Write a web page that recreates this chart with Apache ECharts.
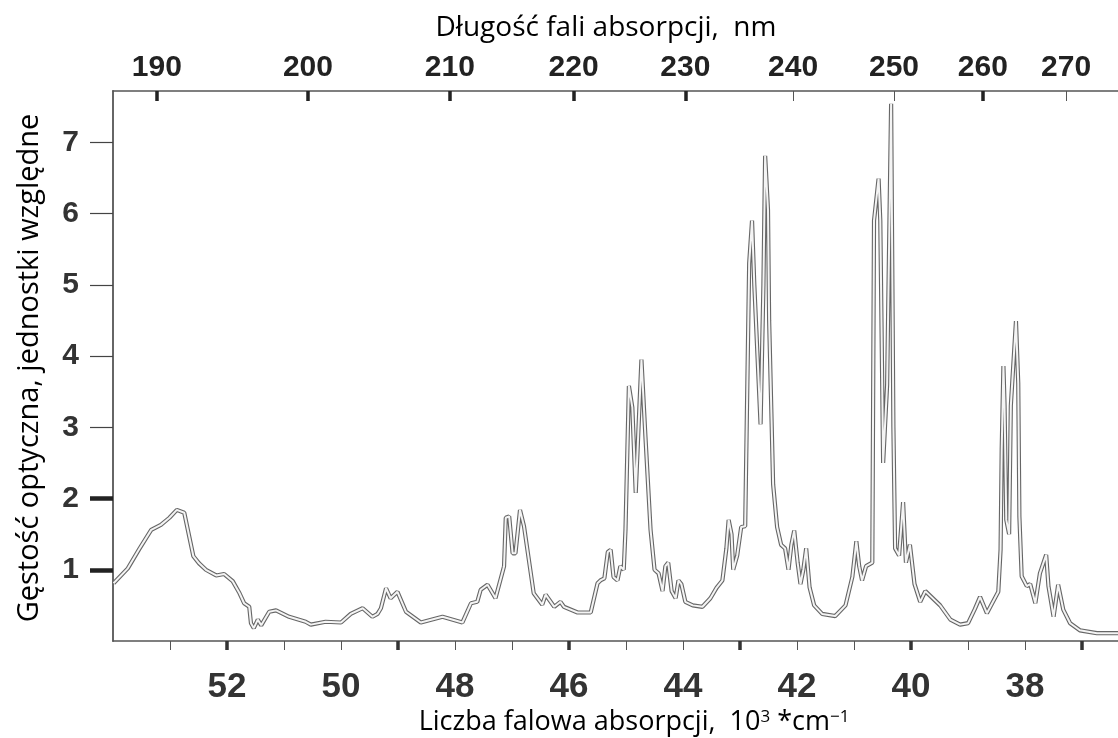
<!DOCTYPE html>
<html>
<head>
<meta charset="utf-8">
<script src="https://cdn.jsdelivr.net/npm/echarts@6/dist/echarts.min.js"></script>
<style>
  html, body { margin: 0; padding: 0; background: #fff; }
  #chart { width: 1118px; height: 738px; }
</style>
</head>
<body>
<div id="chart"></div>
<script>
// wave number (10^3 cm^-1) and optical density
const waveNumbers = [
  53.99, 53.74, 53.54, 53.33, 53.16, 53.01, 52.88, 52.75, 52.59, 52.49,
  52.37, 52.19, 52.05, 51.90, 51.78, 51.70, 51.61, 51.58, 51.53, 51.46,
  51.40, 51.26, 51.14, 50.91, 50.62, 50.53, 50.27, 50.00, 49.83, 49.62,
  49.45, 49.36, 49.30, 49.21, 49.13, 49.01, 48.86, 48.60, 48.22, 47.87,
  47.72, 47.61, 47.55, 47.43, 47.29, 47.14, 47.11, 47.05, 46.99, 46.94,
  46.86, 46.79, 46.62, 46.47, 46.41, 46.26, 46.15, 46.09, 45.85, 45.62,
  45.50, 45.45, 45.38, 45.32, 45.27, 45.22, 45.15, 45.10, 45.04, 45.01,
  44.95, 44.89, 44.83, 44.73, 44.66, 44.57, 44.50, 44.43, 44.36, 44.31,
  44.26, 44.20, 44.13, 44.08, 44.03, 43.96, 43.83, 43.66, 43.52, 43.41,
  43.31, 43.24, 43.20, 43.15, 43.12, 43.05, 42.98, 42.91, 42.84, 42.79,
  42.75, 42.64, 42.59, 42.56, 42.51, 42.49, 42.42, 42.35, 42.28, 42.21,
  42.15, 42.10, 42.05, 41.99, 41.94, 41.89, 41.84, 41.78, 41.70, 41.56,
  41.33, 41.15, 41.03, 40.96, 40.91, 40.86, 40.79, 40.68, 40.65, 40.57,
  40.54, 40.49, 40.42, 40.35, 40.31, 40.28, 40.21, 40.14, 40.09, 40.02,
  39.94, 39.84, 39.75, 39.49, 39.31, 39.14, 39.00, 38.88, 38.79, 38.67,
  38.47, 38.43, 38.41, 38.38, 38.36, 38.33, 38.28, 38.25, 38.16, 38.12,
  38.10, 38.06, 37.97, 37.91, 37.82, 37.74, 37.63, 37.59, 37.50, 37.42,
  37.33, 37.21, 37.04, 36.74, 36.37
];
const density = [
  0.81, 1.02, 1.29, 1.56, 1.63, 1.73, 1.84, 1.80, 1.19, 1.09,
  1.00, 0.92, 0.94, 0.84, 0.67, 0.53, 0.48, 0.25, 0.18, 0.30,
  0.22, 0.41, 0.43, 0.34, 0.27, 0.23, 0.27, 0.26, 0.38, 0.46,
  0.34, 0.38, 0.46, 0.74, 0.60, 0.69, 0.41, 0.26, 0.34, 0.26,
  0.53, 0.55, 0.72, 0.79, 0.60, 1.05, 1.73, 1.75, 1.23, 1.23,
  1.84, 1.61, 0.67, 0.51, 0.65, 0.48, 0.55, 0.48, 0.40, 0.40,
  0.81, 0.85, 0.88, 1.25, 1.28, 0.90, 0.85, 1.05, 1.00, 1.56,
  3.58, 3.28, 2.08, 3.95, 2.87, 1.56, 1.00, 0.95, 0.70, 1.05,
  1.10, 0.70, 0.60, 0.85, 0.80, 0.55, 0.50, 0.48, 0.60, 0.75,
  0.85, 1.30, 1.70, 1.50, 1.00, 1.20, 1.60, 1.61, 5.30, 5.90,
  5.00, 3.04, 5.00, 6.81, 6.05, 4.50, 2.20, 1.60, 1.35, 1.30,
  1.00, 1.35, 1.55, 1.10, 0.80, 1.00, 1.30, 0.75, 0.50, 0.38,
  0.35, 0.50, 0.90, 1.40, 1.05, 0.85, 1.05, 1.10, 5.90, 6.49,
  5.90, 2.50, 3.60, 7.54, 3.00, 1.30, 1.20, 1.95, 1.10, 1.35,
  0.80, 0.55, 0.70, 0.50, 0.30, 0.23, 0.25, 0.45, 0.62, 0.39,
  0.69, 1.28, 2.69, 3.86, 3.30, 1.70, 1.50, 3.30, 4.49, 3.62,
  1.75, 0.91, 0.77, 0.80, 0.53, 0.95, 1.21, 0.77, 0.34, 0.79,
  0.44, 0.25, 0.15, 0.11, 0.11
];

const xMin = 36.37;
const xMax = 54.0;
const bottomTicks = [37, 38, 39, 40, 41, 42, 43, 44, 45, 46, 47, 48, 49, 50, 51, 52, 53];
const bottomBoldTicks = [37, 40, 43, 46, 49, 52];
const bottomLabels = [38, 40, 42, 44, 46, 48, 50, 52];

// wavelength scale on top, placed where the picture has it
const topTickLabels = [190, 200, 210, 220, 230, 240, 250, 260, 270];
const topTickAt = [53.23, 50.58, 48.09, 45.92, 43.96, 42.07, 40.30, 38.74, 37.28];
const topBoldLabels = [190, 200, 210, 220, 230, 260];

const yMax = 7.72;
const yTicks = [1, 2, 3, 4, 5, 6, 7];
const yBoldTicks = [1, 2];

const spectrum = waveNumbers.map((w, i) => [w, density[i]]);
const topBoldAt = topTickAt.filter((v, i) => topBoldLabels.includes(topTickLabels[i]));

const tickFont = "'Liberation Sans', Arial, sans-serif";
const titleFont = "'Open Sans', 'Noto Sans', sans-serif";
const axisColor = '#555';

const baseX = {
  type: 'value',
  min: xMin,
  max: xMax,
  inverse: true,
  splitLine: { show: false },
  axisLine: { show: false, onZero: false },
  axisLabel: { show: false },
  axisTick: { show: false }
};

const chart = echarts.init(document.getElementById('chart'));
chart.setOption({
  animation: false,
  backgroundColor: '#fff',
  grid: { left: 113, right: 0, top: 91, bottom: 97, outerBoundsMode: 'none' },
  xAxis: [
    {
      ...baseX,
      position: 'bottom',
      axisLine: { show: true, onZero: false, lineStyle: { color: axisColor, width: 1.5 } },
      axisTick: { show: true, customValues: bottomTicks, length: 9, lineStyle: { color: axisColor, width: 1 } },
      axisLabel: {
        show: true, customValues: bottomLabels, margin: 29,
        fontFamily: tickFont, fontSize: 35, fontWeight: 'bold', color: '#333'
      }
    },
    {
      ...baseX,
      position: 'bottom',
      axisTick: { show: true, customValues: bottomBoldTicks, length: 9, lineStyle: { color: '#333', width: 3.5 } }
    },
    {
      ...baseX,
      position: 'top',
      axisLine: { show: true, onZero: false, lineStyle: { color: axisColor, width: 1.5 } },
      axisTick: { show: true, inside: true, customValues: topTickAt, length: 10, lineStyle: { color: axisColor, width: 1 } },
      axisLabel: {
        show: true, customValues: topTickAt, margin: 8,
        fontFamily: tickFont, fontSize: 30, fontWeight: 'bold', color: '#222',
        formatter: v => String(topTickLabels[topTickAt.indexOf(v)])
      }
    },
    {
      ...baseX,
      position: 'top',
      axisTick: { show: true, inside: true, customValues: topBoldAt, length: 10, lineStyle: { color: '#222', width: 3.5 } }
    }
  ],
  yAxis: [
    {
      type: 'value',
      position: 'left',
      min: 0,
      max: yMax,
      splitLine: { show: false },
      axisLine: { show: true, onZero: false, lineStyle: { color: '#666', width: 2 } },
      axisTick: { show: true, customValues: yTicks, length: 23, lineStyle: { color: '#444', width: 1.2 } },
      axisLabel: {
        show: true, customValues: yTicks, margin: 34,
        fontFamily: tickFont, fontSize: 30, fontWeight: 'bold', color: '#333'
      }
    },
    {
      type: 'value',
      position: 'left',
      min: 0,
      max: yMax,
      splitLine: { show: false },
      axisLine: { show: false, onZero: false },
      axisLabel: { show: false },
      axisTick: { show: true, customValues: yBoldTicks, length: 23, lineStyle: { color: '#222', width: 4.5 } }
    }
  ],
  series: [
    {
      type: 'line',
      data: spectrum,
      symbol: 'none',
      lineStyle: { color: '#666', width: 4.2 }
    },
    {
      type: 'line',
      data: spectrum,
      symbol: 'none',
      lineStyle: { color: '#f4f4f4', width: 2 }
    }
  ],
  graphic: [
    {
      type: 'text', x: 606, y: 28,
      style: {
        text: 'Długość fali absorpcji,  nm',
        font: '28px ' + titleFont, fill: '#000',
        textAlign: 'center', textVerticalAlign: 'middle'
      }
    },
    {
      type: 'text', x: 634, y: 722,
      style: {
        text: '{n|Liczba falowa absorpcji,  10}{s|3}{n| *cm}{s|−1}',
        textAlign: 'center', textVerticalAlign: 'middle',
        rich: {
          n: { fontFamily: titleFont, fontSize: 27, fill: '#000', verticalAlign: 'bottom' },
          s: { fontFamily: titleFont, fontSize: 17, fill: '#000', verticalAlign: 'top' }
        }
      }
    },
    {
      type: 'text', x: 30, y: 368, rotation: Math.PI / 2,
      style: {
        text: 'Gęstość optyczna, jednostki względne',
        font: '29px ' + titleFont, fill: '#000',
        textAlign: 'center', textVerticalAlign: 'middle'
      }
    }
  ]
});
</script>
</body>
</html>
